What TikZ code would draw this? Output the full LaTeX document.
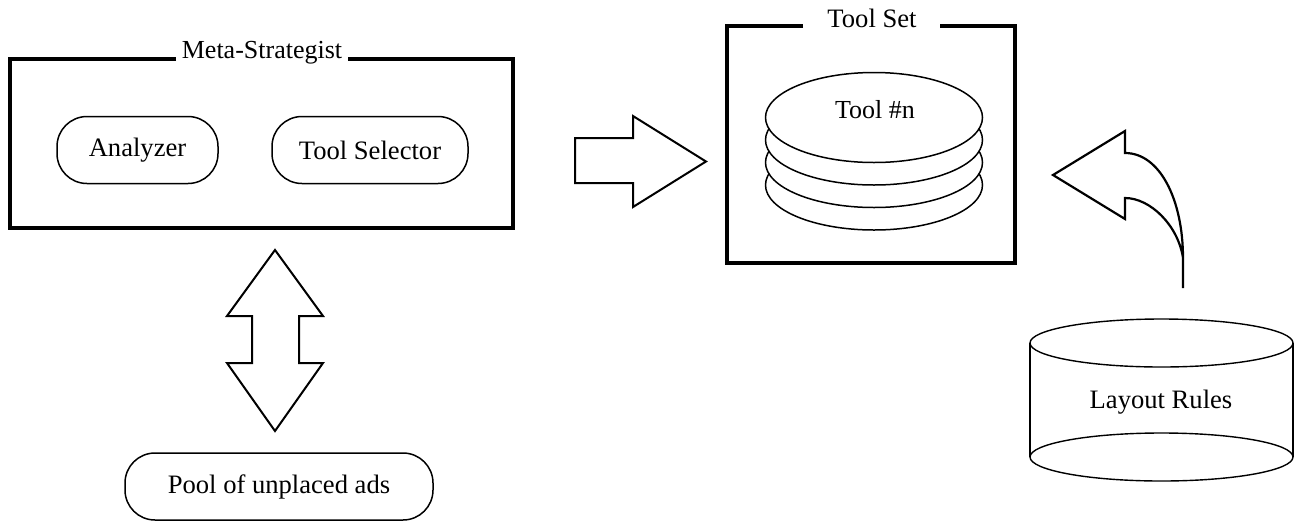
\documentclass[tikz,border=0pt]{standalone}
\usepackage{fontspec}
\setmainfont{Liberation Serif}
\usetikzlibrary{shapes.geometric}
\newcommand{\fsz}[1]{\fontsize{#1}{#1}\selectfont}
\begin{document}
\begin{tikzpicture}[x=0.5pt,y=-0.5pt,
  lbl/.style={inner sep=0pt, font=\fsz{13.3}},
  frame/.style={line width=2pt, line join=miter},
  pill/.style={draw, line width=0.75pt, rounded corners=15pt, minimum height=33.5pt,
    inner sep=0pt, font=\fsz{13.3}},
  blockarrow/.style={draw, line width=1pt, line join=miter},
  disk/.style={ellipse, draw, fill=white, line width=0.75pt, inner sep=0pt,
    minimum width=108.5pt, minimum height=45pt},
  drum/.style={draw, line width=0.7pt}]
\useasboundingbox (0,0) rectangle (1297,521);

% Meta-Strategist frame
\node[lbl, font=\fsz{13}] (metatitle) at (262,53) {Meta-Strategist};
\coordinate (mgl) at (176,59);
\coordinate (mgr) at (348,59);
\draw[frame] (mgl) -- (10,59) -- (10,228) -- (513,228) -- (513,59) -- (mgr);
\node[pill, minimum width=80.5pt] (analyzer) at (137.5,150) {Analyzer};
\node[pill, minimum width=98pt] (selector) at (370,150) {Tool Selector};

% block arrow towards the tool set
\draw[blockarrow] (575,138) -- (633,138) -- (633,116) -- (706,161.5) -- (633,207)
  -- (633,183) -- (575,183) -- cycle;

% Tool Set frame
\node[lbl] (tstitle) at (872,18) {Tool Set};
\coordinate (tgl) at (803,26);
\coordinate (tgr) at (940,26);
\draw[frame] (tgl) -- (727,26) -- (727,263) -- (1015,263) -- (1015,26) -- (tgr);

% stack of tools, drawn from the bottom up
\node[disk] (tool4) at (874,185) {};
\node[disk] (tool3) at (874,162.5) {};
\node[disk] (tool2) at (874,140) {};
\node[disk] (tool1) at (874,117.5) {};
\node[lbl, font=\fsz{13}] (tooln) at (875,110) {Tool \#n};

% curved arrow from the layout rules
\draw[blockarrow, line width=1.1pt] (1183,288) -- (1183,258)
  .. controls (1183,200) and (1160,153) .. (1125,153)
  -- (1125,131) -- (1053,175) -- (1125,219) -- (1125,198)
  .. controls (1150,198) and (1178,225) .. (1183,258);

% Layout Rules drum
\draw[drum] (1161.5,457) ellipse [x radius=65.75pt, y radius=12pt];
\draw[drum] (1030,343) -- (1030,457) (1293,343) -- (1293,457);
\draw[drum, fill=white] (1161.5,343) ellipse [x radius=65.75pt, y radius=12pt];
\node[lbl] (rules) at (1161,402) {Layout Rules};

% two-way arrow to the pool
\draw[blockarrow] (275,250) -- (323,316) -- (299,316) -- (299,363) -- (323,363)
  -- (275,431) -- (227,363) -- (252,363) -- (252,316) -- (227,316) -- cycle;
\node[pill, minimum width=154pt] (pool) at (279,486.5) {Pool of unplaced ads};
\end{tikzpicture}
\end{document}
